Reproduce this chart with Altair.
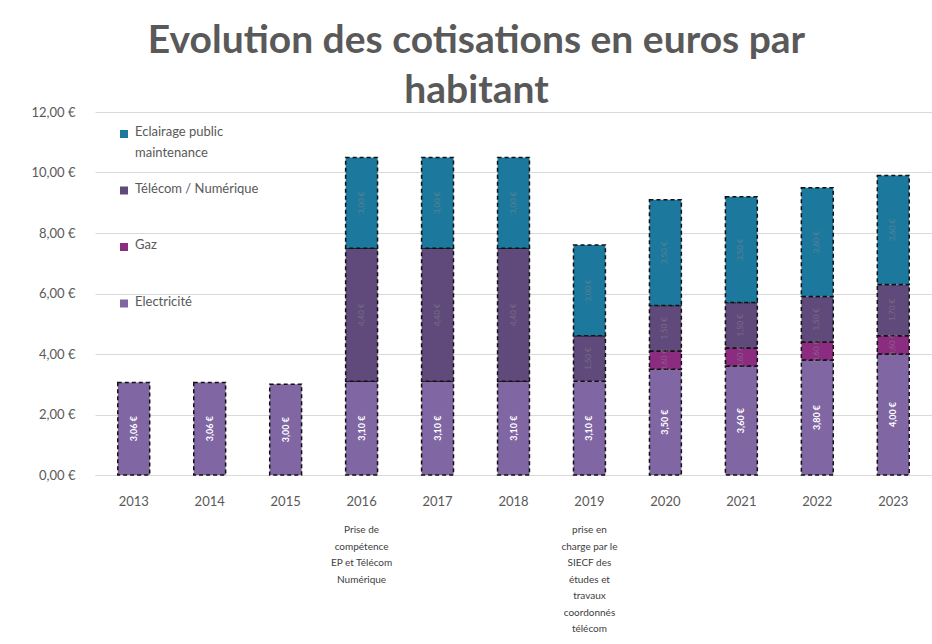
import altair as alt
import pandas as pd

years = ["2013", "2014", "2015", "2016", "2017", "2018", "2019", "2020", "2021", "2022", "2023"]
electricite = [3.06, 3.06, 3.00, 3.10, 3.10, 3.10, 3.10, 3.50, 3.60, 3.80, 4.00]
gaz = [0, 0, 0, 0, 0, 0, 0, 0.60, 0.60, 0.60, 0.60]
telecom = [0, 0, 0, 4.40, 4.40, 4.40, 1.50, 1.50, 1.50, 1.50, 1.70]
eclairage = [0, 0, 0, 3.00, 3.00, 3.00, 3.00, 3.50, 3.50, 3.60, 3.60]

series_names = ["Eclairage public maintenance", "Télécom / Numérique", "Gaz", "Electricité"]
series_legend_lines = [["Eclairage public", "maintenance"], ["Télécom / Numérique"], ["Gaz"], ["Electricité"]]
series_colors = ["#1d789e", "#604a7b", "#8b2c80", "#8066a3"]

note_years = ["2016", "2019"]
note_texts = [
    ["Prise de", "compétence", "EP et Télécom", "Numérique"],
    ["prise en", "charge par le", "SIECF des", "études et", "travaux", "coordonnés", "télécom"],
]

rows = []
stack = [("Electricité", electricite), ("Gaz", gaz), ("Télécom / Numérique", telecom),
         ("Eclairage public maintenance", eclairage)]
for i, yr in enumerate(years):
    base = 0.0
    for name, vals in stack:
        v = vals[i]
        if v > 0:
            rows.append(dict(year=yr, serie=name, value=v, start=base, end=base + v,
                             mid=base + v / 2,
                             label=f"{v:.2f}".replace(".", ",") + " €"))
            base += v
df = pd.DataFrame(rows)
notes = pd.DataFrame({"year": note_years, "text": note_texts})
legend_df = pd.DataFrame({"serie": series_names, "text": series_legend_lines})

FONT = "Lato"
W, H = 837, 363

xscale = alt.Scale(domain=years, paddingInner=0.58, paddingOuter=0.3)
cscale = alt.Scale(domain=series_names, range=series_colors)
xenc = alt.X("year:N", scale=xscale, sort=years,
             axis=alt.Axis(title=None, labelAngle=0, domain=True, domainColor="#d9d9d9",
                           ticks=False, labelPadding=20, labelFontSize=13,
                           labelColor="#595959", labelFont=FONT))

bars = alt.Chart(df).mark_bar(stroke="#111111", strokeDash=[4, 3], strokeWidth=1.5).encode(
    x=xenc,
    y=alt.Y("start:Q", scale=alt.Scale(domain=[0, 12], nice=False),
            axis=alt.Axis(title=None, values=[0, 2, 4, 6, 8, 10, 12], domain=False, ticks=False,
                          gridColor="#d9d9d9", labelPadding=20, labelFontSize=13,
                          labelColor="#595959", labelFont=FONT,
                          labelExpr="replace(format(datum.value, '.2f'), '.', ',') + ' €'")),
    y2="end:Q",
    color=alt.Color("serie:N", scale=cscale, legend=None),
)

elec_labels = alt.Chart(df).transform_filter(alt.datum.serie == "Electricité").mark_text(
    angle=270, color="white", fontSize=9, fontWeight="bold", font=FONT
).encode(x=alt.X("year:N", scale=xscale, sort=years), y="mid:Q", text="label:N")

other_labels = alt.Chart(df).transform_filter(alt.datum.serie != "Electricité").mark_text(
    angle=270, color="#8a8a8a", opacity=0.55, fontSize=8, font=FONT
).encode(x=alt.X("year:N", scale=xscale, sort=years), y="mid:Q", text="label:N")

note_layer = alt.Chart(notes).mark_text(
    baseline="top", fontSize=10, lineHeight=16.5, color="#404040", font=FONT
).encode(x=alt.X("year:N", scale=xscale, sort=years), y=alt.value(H + 50), text="text")

# legend drawn inside the plot area, entries spread vertically as in the original
leg_base = alt.Chart(legend_df).transform_window(idx="row_number()").transform_calculate(
    ly="22 + (datum.idx - 1) * 56.5"
)
leg_sym = leg_base.mark_square(size=64, opacity=1).encode(
    x=alt.value(29), y=alt.Y("ly:Q", scale=None),
    color=alt.Color("serie:N", scale=cscale, legend=None),
)
leg_txt = leg_base.mark_text(
    align="left", baseline="top", dy=-8, fontSize=13, lineHeight=21, color="#595959", font=FONT
).encode(x=alt.value(40), y=alt.Y("ly:Q", scale=None), text="text")

chart = alt.layer(bars, elec_labels, other_labels, note_layer, leg_sym, leg_txt).properties(
    width=W, height=H,
    title=alt.Title(["Evolution des cotisations en euros par", "habitant"], fontSize=39,
                    font=FONT, fontWeight="bold", color="#595959", lineHeight=50,
                    anchor="middle", dx=-37, dy=17, offset=12),
    autosize=alt.AutoSizeParams(type="none"),
    padding={"left": 95, "top": 112, "right": 0, "bottom": 169},
).configure_view(stroke=None)

chart.save("out.html", embed_options={"renderer": "svg", "actions": False})
